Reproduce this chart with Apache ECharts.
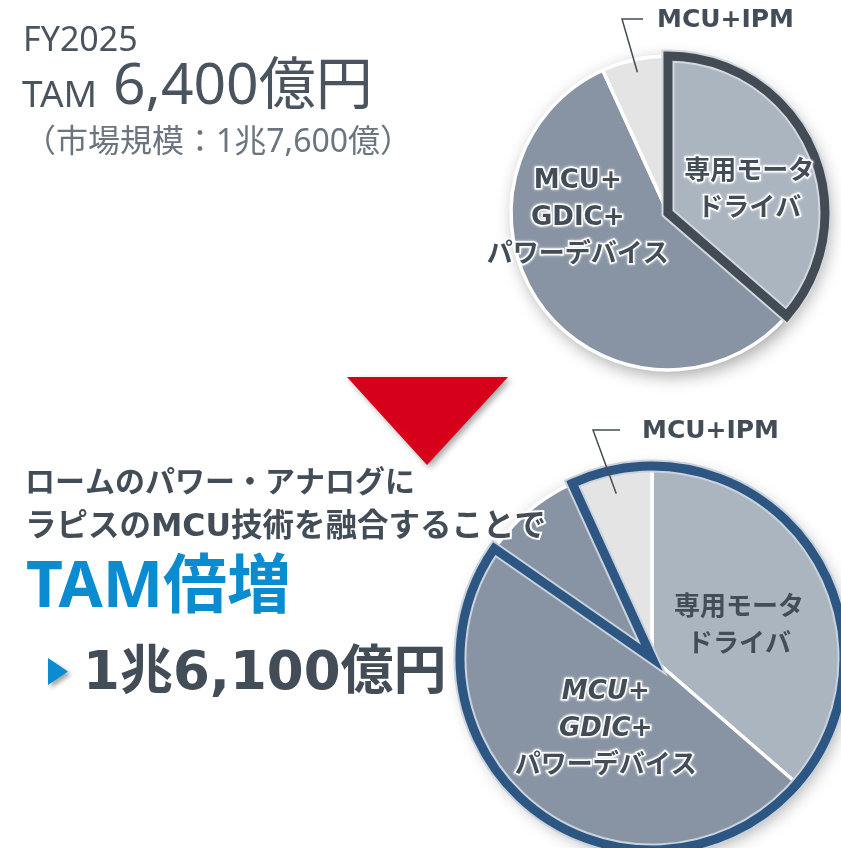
<!DOCTYPE html>
<html><head><meta charset="utf-8">
<script src="https://cdn.jsdelivr.net/npm/echarts@6/dist/echarts.min.js"></script>
<style>html,body{margin:0;padding:0;background:#fff}#c{width:841px;height:848px}</style>
</head><body><div id="c"></div>
<script>
// ---- data (億円) ----
const categories = ['専用モータドライバ', 'MCU+GDIC+パワーデバイス', 'MCU+IPM'];
const marketValues = [6400, 10000, 1200];
const sliceLabels = ['専用モータ\nドライバ', 'MCU+\nGDIC+\nパワーデバイス', 'MCU+IPM'];
const tamBefore = 6400;
const tamAfter = 16100;
// ---- texts ----
const fiscalYear = 'FY2025';
const headerLabel = 'TAM';
const headerValue = '6,400億円';
const marketNote = '（市場規模：1兆7,600億）';
const messageLines = ['ロームのパワー・アナログに', 'ラピスのMCU技術を融合することで'];
const headline = 'TAM倍増';
const resultValue = '1兆6,100億円';

// ---- styles ----
const sliceColors = ['#abb5c0', '#8894a3', '#e4e4e4'];
const TEXT = '#434d57';
const FDJ = '"DejaVu Sans", "Noto Sans CJK JP", sans-serif';
const FNS = '"Noto Sans", "Noto Sans CJK JP", sans-serif';
const total = marketValues.reduce((a, b) => a + b, 0);
const ipmStartDeg = (marketValues[0] + marketValues[1]) / total * 360;

const pies = {
  top: { center: [668, 213], radius: 157, ring: '#434b55', halo: '#d3d8dd', labelR: 144,
         tam: tamBefore, startAngle: 90,
         shifts: [[7, 12], [-25, -44]], ipmPos: [657, 20], ipmGap: 14, ipmLen2: 21,
         glow: [true, true], italic: false },
  bottom: { center: [652, 658], radius: 192, ring: '#2d5682', halo: '#c9d3de', labelR: 168,
         tam: tamAfter, startAngle: 90 - ipmStartDeg + 360,
         shifts: [[-3, 10], [33, 12]], ipmPos: [642, 431], ipmGap: 22, ipmLen2: 27,
         glow: [false, true], italic: true }
};

const base = { type: 'pie', silent: true, animation: false, avoidLabelOverlap: false,
  emphasis: { disabled: true }, label: { show: false }, labelLine: { show: false } };
const clear = 'rgba(0,0,0,0)';

function pieSeries(p) {
  const out = [];
  out.push(Object.assign({}, base, { center: p.center, radius: p.radius,
    data: [{ name: 'all', value: total, itemStyle: { color: '#fff', shadowBlur: 18,
      shadowColor: 'rgba(0,0,0,0.38)', shadowOffsetX: 4, shadowOffsetY: 5 } }] }));
  out.push(Object.assign({}, base, { center: p.center, radius: p.radius,
    data: categories.map((n, i) => ({ name: n, value: marketValues[i],
      itemStyle: { color: sliceColors[i], borderColor: '#fff', borderWidth: 3.5 } })) }));
  [[p.halo, 13], [p.ring, 9]].forEach(([col, w]) => {
    out.push(Object.assign({}, base, { center: p.center, radius: p.radius, startAngle: p.startAngle,
      data: [
        { name: 'TAM', value: p.tam, itemStyle: { color: clear, borderColor: col, borderWidth: w, borderJoin: 'miter' } },
        { name: 'other', value: total - p.tam, itemStyle: { color: clear, borderWidth: 0 } }
      ] }));
  });
  const glowStyle = (g) => g ? { textBorderColor: '#fff', textBorderWidth: 3, textShadowColor: 'rgba(255,255,255,0.9)', textShadowBlur: 3 } : {};
  out.push(Object.assign({}, base, { center: p.center, radius: p.radius, z: 5,
    label: { show: true, position: 'inside' },
    labelLayout: (prm) => { const s = p.shifts[prm.dataIndex]; return s ? { dx: s[0], dy: s[1] } : {}; },
    data: categories.map((n, i) => {
      const d = { name: n, value: marketValues[i], itemStyle: { color: clear, borderWidth: 0 } };
      if (i === 2) { d.label = { show: false }; return d; }
      const common = Object.assign({ fontFamily: FDJ, fontWeight: 'bold', fontSize: 26, color: TEXT, lineHeight: 37 }, glowStyle(p.glow[i]));
      if (i === 1 && p.italic) {
        const parts = sliceLabels[i].split('\n');
        d.label = Object.assign({}, common, {
          formatter: parts.map((t, k) => (k < 2 ? '{i|' + t + '}' : '{n|' + t + '}')).join('\n'),
          rich: { i: Object.assign({}, common, { fontStyle: 'italic' }), n: Object.assign({}, common) } });
      } else {
        d.label = Object.assign({}, common, { formatter: sliceLabels[i] });
      }
      return d;
    }) }));
  // outside label for MCU+IPM; leader starts at the library's anchor on the slice
  out.push(Object.assign({}, base, { center: p.center, radius: p.labelR, z: 5,
    label: { show: true, position: 'outside', fontFamily: FDJ, fontWeight: 'bold', fontSize: 25, color: TEXT },
    labelLine: { show: true, length: 10, length2: p.ipmLen2, lineStyle: { color: '#434d57', width: 1.5 } },
    labelLayout: (prm) => {
      if (prm.dataIndex !== 2) return {};
      const [x, y] = p.ipmPos;
      const a = prm.labelLinePoints ? prm.labelLinePoints[0] : [x - p.ipmGap - p.ipmLen2, y + 50];
      return { x: x, y: y, align: 'left', verticalAlign: 'middle',
        labelLinePoints: [a, [x - p.ipmGap - p.ipmLen2, y - 1], [x - p.ipmGap, y - 1]] };
    },
    data: categories.map((n, i) => ({ name: n, value: marketValues[i], itemStyle: { color: clear, borderWidth: 0 },
      label: i === 2 ? { formatter: sliceLabels[i] } : { show: false },
      labelLine: i === 2 ? { show: true } : { show: false } })) }));
  return out;
}

const chart = echarts.init(document.getElementById('c'), null, { renderer: 'canvas' });
chart.setOption({
  backgroundColor: '#fff',
  animation: false,
  series: pieSeries(pies.top).concat(pieSeries(pies.bottom)),
  graphic: { elements: [
    { type: 'text', z: 100, x: 23, y: 41, style: { text: fiscalYear, font: '34px ' + FNS, fill: '#4a545e', verticalAlign: 'middle' } },
    { type: 'text', z: 100, x: 22, y: 96, style: { text: headerLabel, font: '37px ' + FNS, fill: '#4a545e', verticalAlign: 'middle' } },
    { type: 'text', z: 100, x: 113, y: 88, style: { text: headerValue, font: '57px ' + FNS, fill: '#4a545e', verticalAlign: 'middle' } },
    { type: 'text', z: 100, x: 24, y: 143, style: { text: marketNote, font: '32px ' + FNS, fill: '#6a757f', verticalAlign: 'middle' } },
    { type: 'polygon', z: 90, shape: { points: [[347, 377], [508, 377], [427, 465]] },
      style: { fill: '#d7001a', shadowBlur: 6, shadowOffsetX: 3, shadowOffsetY: 3, shadowColor: 'rgba(0,0,0,0.35)' } },
    { type: 'text', z: 100, x: 25, y: 484, style: { text: messageLines[0], font: 'bold 30px ' + FDJ, fill: TEXT, verticalAlign: 'middle' } },
    { type: 'text', z: 100, x: 25, y: 528, style: { text: messageLines[1], font: 'bold 31.5px ' + FDJ, fill: TEXT, verticalAlign: 'middle',
      stroke: '#fff', lineWidth: 4 } },
    { type: 'text', z: 100, x: 26, y: 589, style: { text: headline, font: 'bold 64px ' + FNS, fill: '#0b8bd0', verticalAlign: 'middle' } },
    { type: 'polygon', z: 100, shape: { points: [[48, 658], [48, 685], [68, 671.5]] },
      style: { fill: '#0b8bd0', shadowBlur: 4, shadowOffsetX: 3, shadowOffsetY: 3, shadowColor: 'rgba(0,0,0,0.35)' } },
    { type: 'text', z: 100, x: 83, y: 675, style: { text: resultValue, font: 'bold 53px ' + FDJ, fill: TEXT, verticalAlign: 'middle' } }
  ] }
});
</script></body></html>
